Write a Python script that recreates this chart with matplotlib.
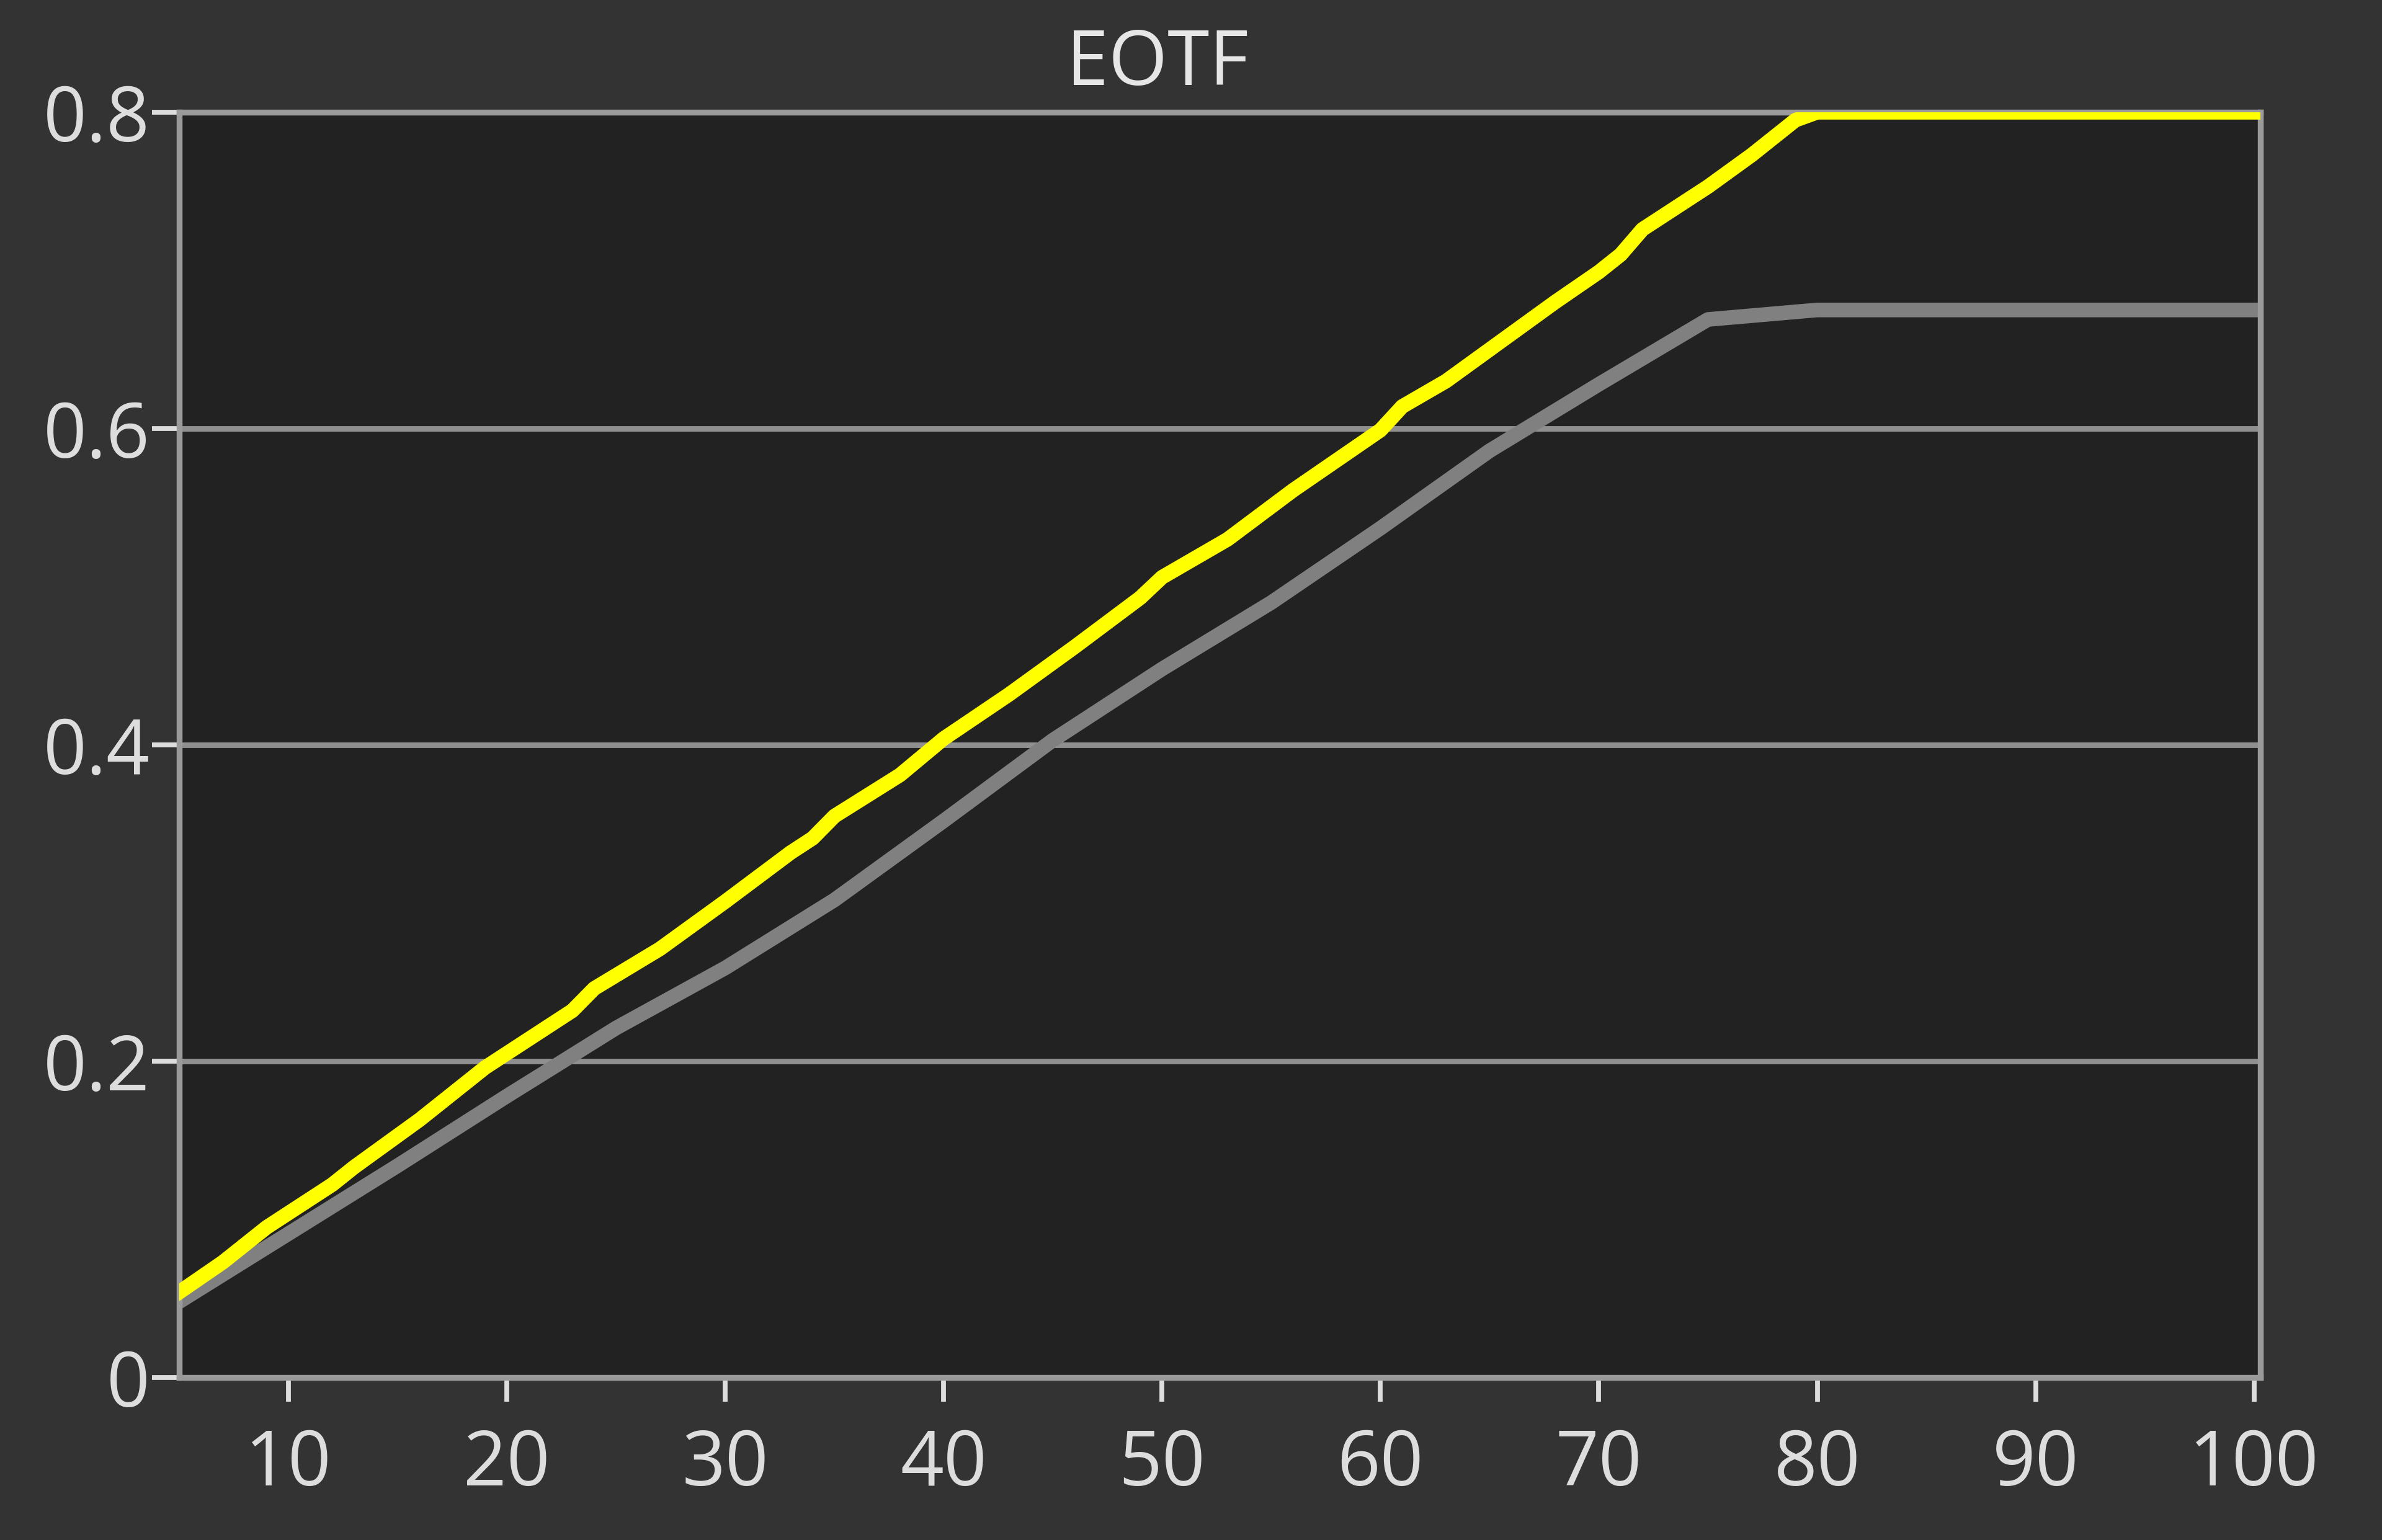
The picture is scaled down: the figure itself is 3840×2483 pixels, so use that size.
import matplotlib
matplotlib.use("Agg")
import matplotlib.pyplot as plt

# 测量曲线 (yellow) 与目标曲线 (gray)
measured_x = [5, 7, 9, 12, 13, 16, 19, 21, 23, 24, 27, 30, 33, 34, 35, 38, 40,
              43, 46, 49, 50, 53, 56, 58, 60, 61, 63, 66, 68, 70, 71, 72, 75,
              77, 79, 80, 100]
measured_y = [0.054, 0.073, 0.095, 0.122, 0.133, 0.163, 0.196, 0.214, 0.232,
              0.246, 0.271, 0.301, 0.332, 0.341, 0.355, 0.381, 0.404, 0.432,
              0.462, 0.493, 0.506, 0.530, 0.561, 0.580, 0.599, 0.614, 0.630,
              0.660, 0.680, 0.699, 0.710, 0.726, 0.753, 0.773, 0.795, 0.800,
              0.800]

target_x = [5, 10, 15, 20, 25, 30, 35, 40, 45, 50, 55, 60, 65, 70, 75, 80, 100]
target_y = [0.048, 0.091, 0.134, 0.178, 0.221, 0.259, 0.302, 0.352, 0.403,
            0.448, 0.490, 0.537, 0.586, 0.628, 0.669, 0.675, 0.675]

x_ticks = [10, 20, 30, 40, 50, 60, 70, 80, 90, 100]
y_ticks = [0, 0.2, 0.4, 0.6, 0.8]
y_tick_labels = ["0", "0.2", "0.4", "0.6", "0.8"]

plt.rcParams["font.family"] = ["Open Sans", "DejaVu Sans"]

fig = plt.figure(figsize=(19.2, 12.415), dpi=200, facecolor="#333333")
ax = fig.add_axes([0.0753, 0.1055, 0.8737, 0.8216])
ax.set_facecolor("#222222")

# 网格
for y in y_ticks[1:-1]:
    ax.axhline(y, color="#8f8f8f", linewidth=3.2, zorder=1)

ax.plot(target_x, target_y, color="#808080", linewidth=8.5,
        solid_joinstyle="round", zorder=2)
ax.plot(measured_x, measured_y, color="#ffff00", linewidth=8.5,
        solid_joinstyle="round", zorder=3)

ax.set_xlim(5, 100.3)
ax.set_ylim(0, 0.8)
ax.set_xticks(x_ticks)
ax.set_yticks(y_ticks)
ax.set_yticklabels(y_tick_labels)

for spine in ax.spines.values():
    spine.set_color("#9a9a9a")
    spine.set_linewidth(3.4)

ax.tick_params(axis="y", colors="#dddddd", labelsize=44, length=16, width=2.8, pad=1)
ax.tick_params(axis="x", colors="#dddddd", labelsize=44, length=14, width=2.8, pad=15)

ax.set_title("EOTF", color="#e6e6e6", fontsize=44, pad=16, x=0.47)

fig.savefig("out.png", dpi=200, facecolor=fig.get_facecolor())
